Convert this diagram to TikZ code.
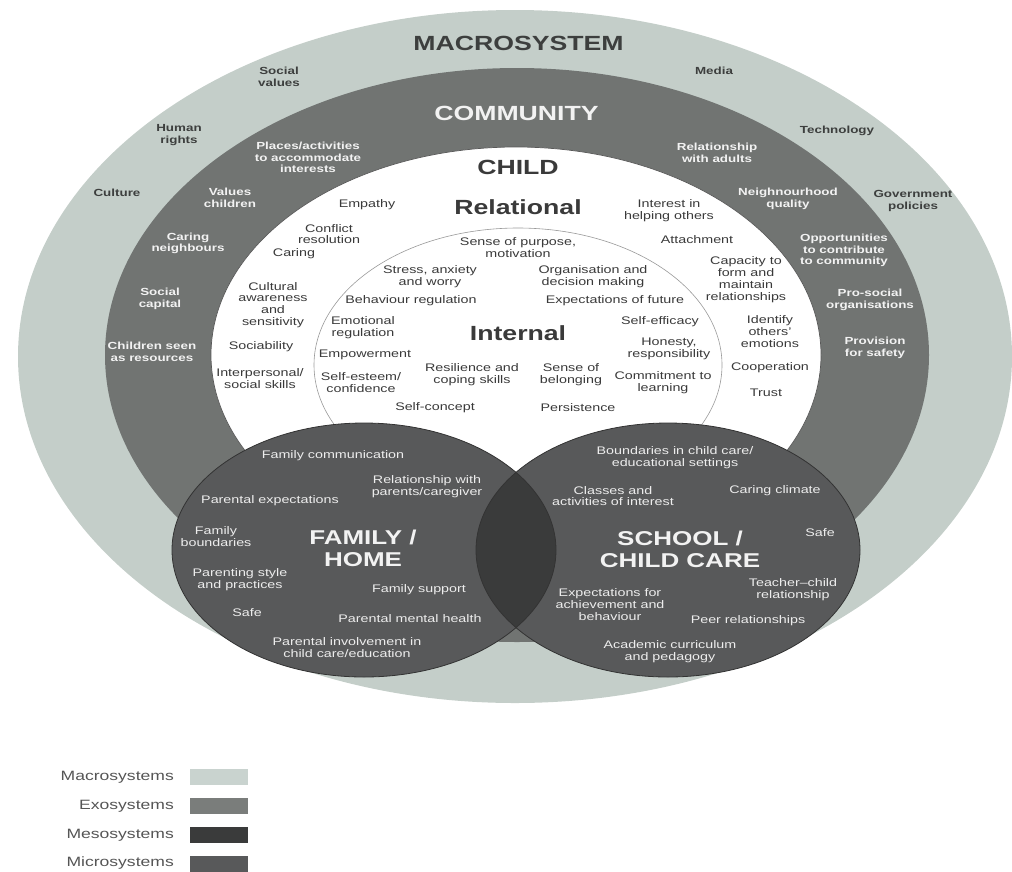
\documentclass[tikz,border=0pt]{standalone}
\usepackage{fontspec}
\setmainfont{Liberation Sans}[FakeStretch=1.3]
\definecolor{macro}{HTML}{C4CEC9}
\definecolor{exo}{HTML}{717472}
\definecolor{micro}{HTML}{58595A}
\definecolor{meso}{HTML}{3A3B3B}
\definecolor{macrotxt}{HTML}{3D3F3E}
\definecolor{childtxt}{HTML}{3A3A3A}
\definecolor{legtxt}{HTML}{555555}
\definecolor{legmacro}{HTML}{C9D3CF}
\definecolor{legexo}{HTML}{7A7D7B}
\begin{document}
\begin{tikzpicture}[x=1pt,y=-1pt,
  lab/.style={inner sep=0pt, align=center},
  macrolab/.style={lab, text=macrotxt, font=\fontsize{10.3}{11.7}\selectfont\bfseries},
  comlab/.style={lab, text=white!95!black, font=\fontsize{10.3}{11.7}\selectfont\bfseries},
  childlab/.style={lab, text=childtxt, font=\fontsize{11}{11.8}\selectfont},
  circlab/.style={lab, text=white!93!black, font=\fontsize{11}{11.8}\selectfont},
  bigtitle/.style={lab, font=\fontsize{20.5}{22}\selectfont\bfseries},
  circtitle/.style={lab, text=white!95!black, font=\fontsize{20}{22}\selectfont\bfseries},
  legendlab/.style={lab, anchor=east, text=legtxt, font=\fontsize{13.5}{15}\selectfont},
  legendbox/.style={minimum width=58pt, minimum height=16pt, inner sep=0pt},
  circline/.style={draw=black!80, line width=0.8pt}
]
\useasboundingbox (0,0) rectangle (1012,871);
% rings
\fill[macro] (515,356.5) ellipse [x radius=497pt, y radius=346.5pt];
\fill[exo] (517,355) ellipse [x radius=412pt, y radius=287pt];
\filldraw[fill=white, draw=black!65, line width=0.7pt] (516,355) ellipse [x radius=305pt, y radius=208pt];
\draw[black!40, line width=0.6pt] (518,365) ellipse [x radius=204pt, y radius=137pt];
% micro / meso
\fill[micro] (364,550) ellipse [x radius=192pt, y radius=127pt];
\fill[micro] (668,550) ellipse [x radius=192pt, y radius=127pt];
\begin{scope}
  \clip (364,550) ellipse [x radius=192pt, y radius=127pt];
  \fill[meso] (668,550) ellipse [x radius=192pt, y radius=127pt];
\end{scope}
\draw[circline] (364,550) ellipse [x radius=192pt, y radius=127pt];
\draw[circline] (668,550) ellipse [x radius=192pt, y radius=127pt];

% titles
\node[bigtitle, text=macrotxt] (macrosys) at (518.5,43) {MACROSYSTEM};
\node[bigtitle, text=white!95!black] (community) at (516.5,113) {COMMUNITY};
\node[bigtitle, text=childtxt] (child) at (518,167) {CHILD};
\node[bigtitle, text=childtxt] (relational) at (518,207) {Relational};
\node[bigtitle, text=childtxt] (internal) at (518,333) {Internal};
\node[circtitle] (family) at (363,548) {FAMILY /\\HOME};
\node[circtitle] (school) at (680,549) {SCHOOL /\\CHILD CARE};

% macrosystem labels
\node[macrolab] (socval) at (279,76.5) {Social\\values};
\node[macrolab] (humrights) at (179,135) {Human\\rights};
\node[macrolab] (culture) at (117,193) {Culture};
\node[macrolab] (media) at (714,71) {Media};
\node[macrolab] (tech) at (837,131) {Technology};
\node[macrolab] (govpol) at (913,201) {Government\\policies};

% community labels
\node[comlab] (places) at (308,157.5) {Places/activities\\to accommodate\\interests};
\node[comlab] (valchild) at (230,197.5) {Values\\children};
\node[comlab] (caringnb) at (188,243.5) {Caring\\neighbours};
\node[comlab] (socap) at (160,299) {Social\\capital};
\node[comlab] (childres) at (152,352) {Children seen\\as resources};
\node[comlab] (reladults) at (717,152.5) {Relationship\\with adults};
\node[comlab] (neigh) at (788,198.5) {Neighnourhood\\quality};
\node[comlab] (opps) at (844,250.5) {Opportunities\\to contribute\\to community};
\node[comlab] (prosoc) at (870,300) {Pro-social\\organisations};
\node[comlab] (provsafe) at (875,348) {Provision\\for safety};

% relational labels
\node[childlab] (empathy) at (367,205) {Empathy};
\node[childlab] (conflict) at (329,234) {Conflict\\resolution};
\node[childlab] (caring) at (294,254) {Caring};
\node[childlab] (cultural) at (273,305) {Cultural\\awareness\\and\\sensitivity};
\node[childlab] (sociab) at (261,347) {Sociability};
\node[childlab] (interp) at (260,378.5) {Interpersonal/\\social skills};
\node[childlab] (interest) at (669,211) {Interest in\\helping others};
\node[childlab] (attach) at (697,240) {Attachment};
\node[childlab] (capacity) at (746,279.5) {Capacity to\\form and\\maintain\\relationships};
\node[childlab] (identify) at (770,331.5) {Identify\\others'\\emotions};
\node[childlab] (coop) at (770,368) {Cooperation};
\node[childlab] (trust) at (766,393) {Trust};

% internal labels
\node[childlab] (purpose) at (518,247.5) {Sense of purpose,\\motivation};
\node[childlab] (stress) at (430,276.5) {Stress, anxiety\\and worry};
\node[childlab] (organ) at (593,276.5) {Organisation and\\decision making};
\node[childlab] (behav) at (411,301) {Behaviour regulation};
\node[childlab] (expfut) at (615,301) {Expectations of future};
\node[childlab] (emot) at (363,328) {Emotional\\regulation};
\node[childlab] (selfeff) at (660,322) {Self-efficacy};
\node[childlab] (honesty) at (669,349) {Honesty,\\responsibility};
\node[childlab] (empower) at (365,355) {Empowerment};
\node[childlab] (resil) at (472,375) {Resilience and\\coping skills};
\node[childlab] (belong) at (571,375) {Sense of\\belonging};
\node[childlab] (esteem) at (361,382.5) {Self-esteem/\\confidence};
\node[childlab] (commit) at (663,383) {Commitment to\\learning};
\node[childlab] (selfconc) at (435,408) {Self-concept};
\node[childlab] (persist) at (578,408) {Persistence};

% family / home labels
\node[circlab] (famcomm) at (333,456) {Family communication};
\node[circlab] (relparents) at (427,487) {Relationship with\\parents/caregiver};
\node[circlab] (parexp) at (270,501) {Parental expectations};
\node[circlab] (famb) at (216,536.5) {Family\\boundaries};
\node[circlab] (parstyle) at (240,580) {Parenting style\\and practices};
\node[circlab] (famsup) at (419,590) {Family support};
\node[circlab] (safeA) at (247,613) {Safe};
\node[circlab] (parmental) at (410,619) {Parental mental health};
\node[circlab] (parinv) at (347,647.5) {Parental involvement in\\child care/education};

% school / child care labels
\node[circlab] (bound) at (675,457.5) {Boundaries in child care/\\educational settings};
\node[circlab] (classes) at (613,496) {Classes and\\activities of interest};
\node[circlab] (carclim) at (775,491) {Caring climate};
\node[circlab] (safeB) at (820,533) {Safe};
\node[circlab] (teacher) at (793,590) {Teacher--child\\relationship};
\node[circlab] (expach) at (610,604.5) {Expectations for\\achievement and\\behaviour};
\node[circlab] (peer) at (748,621) {Peer relationships};
\node[circlab] (academic) at (670,652) {Academic curriculum\\and pedagogy};

% legend
\node[legendlab] (lmacro) at (174,777) {Macrosystems};
\node[legendlab] (lexo) at (174,806) {Exosystems};
\node[legendlab] (lmeso) at (174,835) {Mesosystems};
\node[legendlab] (lmicro) at (174,863) {Microsystems};
\node[legendbox, fill=legmacro] (bmacro) at (219,777) {};
\node[legendbox, fill=legexo] (bexo) at (219,806) {};
\node[legendbox, fill=meso] (bmeso) at (219,835) {};
\node[legendbox, fill=micro] (bmicro) at (219,864) {};
\end{tikzpicture}
\end{document}
